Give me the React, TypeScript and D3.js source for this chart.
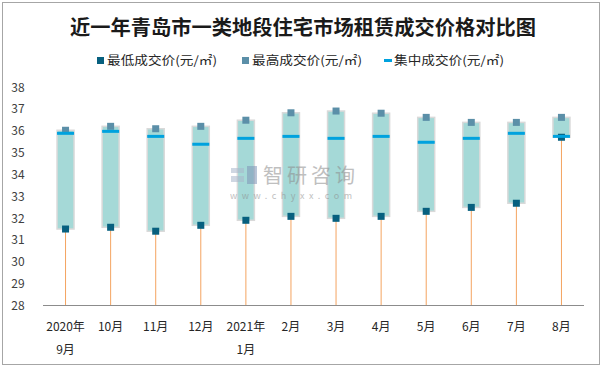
import React, { useEffect, useRef } from 'react';
import * as d3 from 'd3';

const categories = ['2020年|9月', '10月', '11月', '12月', '2021年|1月', '2月', '3月', '4月', '5月', '6月', '7月', '8月'];
const lowValues = [31.5, 31.58, 31.4, 31.67, 31.9, 32.08, 31.99, 32.08, 32.31, 32.49, 32.68, 35.7];
const highValues = [36.02, 36.2, 36.09, 36.2, 36.48, 36.82, 36.9, 36.8, 36.61, 36.38, 36.38, 36.61];
const midValues = [35.88, 35.97, 35.74, 35.38, 35.65, 35.74, 35.65, 35.74, 35.47, 35.65, 35.88, 35.74];
const yTicks = [28, 29, 30, 31, 32, 33, 34, 35, 36, 37, 38];
const legendLabels = ['最低成交价(元/㎡)', '最高成交价(元/㎡)', '集中成交价(元/㎡)'];

const W = 602;
const H = 367;
const FONT = '"Noto Sans CJK SC", "Noto Sans", sans-serif';

const App: React.FC = () => {
  const svgRef = useRef<SVGSVGElement>(null);

  useEffect(() => {
    if (!svgRef.current) return;
    const svg = d3.select(svgRef.current);
    svg.selectAll('*').remove();

    svg.append('rect')
      .attr('x', 0).attr('y', 0).attr('width', W).attr('height', H)
      .attr('fill', '#fff');
    svg.append('rect')
      .attr('x', 2.5).attr('y', 2.5).attr('width', 597).attr('height', 362)
      .attr('fill', 'none').attr('stroke', '#a6a6a6');

    // title
    svg.append('text')
      .attr('x', 70).attr('y', 35)
      .style('font-family', FONT)
      .style('font-size', '20px')
      .style('font-weight', 'bold')
      .attr('fill', '#1a1a1a')
      .attr('textLength', 466)
      .attr('lengthAdjust', 'spacingAndGlyphs')
      .text('近一年青岛市一类地段住宅市场租赁成交价格对比图');

    // legend
    const legend = svg.append('g').style('font-family', FONT).style('font-size', '12px');
    legend.append('rect').attr('x', 97).attr('y', 57).attr('width', 7).attr('height', 7).attr('fill', '#07607f');
    legend.append('rect').attr('x', 242).attr('y', 57).attr('width', 7).attr('height', 7).attr('fill', '#5b8fa8');
    legend.append('rect').attr('x', 384).attr('y', 59).attr('width', 8).attr('height', 3).attr('fill', '#00a2de');
    const lx = [107, 252, 394];
    legendLabels.forEach((t, i) => {
      legend.append('text')
        .attr('x', lx[i]).attr('y', 65)
        .attr('fill', '#262626')
        .attr('textLength', 110)
        .attr('lengthAdjust', 'spacingAndGlyphs')
        .text(t);
    });

    const x = d3.scaleBand<string>().domain(categories).range([43, 584]).padding(0);
    const y = d3.scaleLinear().domain([28, 38]).range([305.5, 87]);
    const cx = (c: string) => (x(c) as number) + x.bandwidth() / 2;

    // y tick labels
    svg.append('g')
      .selectAll('text')
      .data(yTicks)
      .join('text')
      .attr('x', 18).attr('y', d => y(d) + 4.5)
      .attr('text-anchor', 'middle')
      .style('font-family', FONT)
      .style('font-size', '12px')
      .attr('fill', '#404040')
      .text(d => d);

    // drop lines
    svg.append('g')
      .selectAll('line')
      .data(categories)
      .join('line')
      .attr('x1', d => cx(d)).attr('x2', d => cx(d))
      .attr('y1', y(28)).attr('y2', (d, i) => y(lowValues[i]))
      .attr('stroke', '#f4a460').attr('stroke-width', 1);

    // x axis line
    svg.append('line')
      .attr('x1', 43).attr('x2', 584).attr('y1', y(28)).attr('y2', y(28))
      .attr('stroke', '#8c8c8c').attr('stroke-width', 1);

    // boxes
    const bw = 17;
    svg.append('g')
      .selectAll('rect')
      .data(categories)
      .join('rect')
      .attr('x', d => cx(d) - bw / 2)
      .attr('y', (d, i) => y(highValues[i]))
      .attr('width', bw)
      .attr('height', (d, i) => y(lowValues[i]) - y(highValues[i]))
      .attr('fill', '#a5d9d7')
      .attr('stroke', '#d9d9d9').attr('stroke-width', 1.5);

    const ms = 7;
    // low markers
    svg.append('g')
      .selectAll('rect')
      .data(categories)
      .join('rect')
      .attr('x', d => cx(d) - ms / 2)
      .attr('y', (d, i) => y(lowValues[i]) - ms / 2)
      .attr('width', ms).attr('height', ms)
      .attr('fill', '#07607f');

    // high markers
    svg.append('g')
      .selectAll('rect')
      .data(categories)
      .join('rect')
      .attr('x', d => cx(d) - ms / 2)
      .attr('y', (d, i) => y(highValues[i]) - ms / 2)
      .attr('width', ms).attr('height', ms)
      .attr('fill', '#5b8fa8');

    // mid lines
    svg.append('g')
      .selectAll('rect')
      .data(categories)
      .join('rect')
      .attr('x', d => cx(d) - bw / 2)
      .attr('y', (d, i) => y(midValues[i]) - 1.5)
      .attr('width', bw).attr('height', 3)
      .attr('fill', '#00a2de');

    // x labels
    const xl = svg.append('g')
      .style('font-family', FONT)
      .style('font-size', '12px')
      .attr('fill', '#262626');
    categories.forEach(c => {
      const lines = c.split('|');
      lines.forEach((ln, j) => {
        xl.append('text')
          .attr('x', cx(c)).attr('y', 331 + j * 23)
          .attr('text-anchor', 'middle')
          .text(ln);
      });
    });

    // watermark
    const wm = svg.append('g').attr('opacity', 0.55);
    wm.append('rect').attr('x', 231).attr('y', 168).attr('width', 13).attr('height', 5).attr('fill', '#a9b7cc');
    wm.append('rect').attr('x', 231).attr('y', 176).attr('width', 13).attr('height', 6).attr('fill', '#a9b7cc');
    wm.append('rect').attr('x', 247).attr('y', 166).attr('width', 10).attr('height', 18).attr('fill', '#7f95b8');
    wm.append('text')
      .attr('x', 263).attr('y', 183)
      .style('font-family', FONT).style('font-size', '20px')
      .attr('fill', '#8c8c8c')
      .attr('textLength', 92)
      .text('智研咨询');
    wm.append('text')
      .attr('x', 230).attr('y', 199)
      .style('font-family', FONT).style('font-size', '9px')
      .attr('fill', '#8c8c8c')
      .attr('textLength', 122)
      .text('www.chyxx.com');
  }, []);

  return (
    <svg
      ref={svgRef}
      width={W}
      height={H}
      style={{ position: 'absolute', left: 0, top: 0 }}
    />
  );
};

export default App;
